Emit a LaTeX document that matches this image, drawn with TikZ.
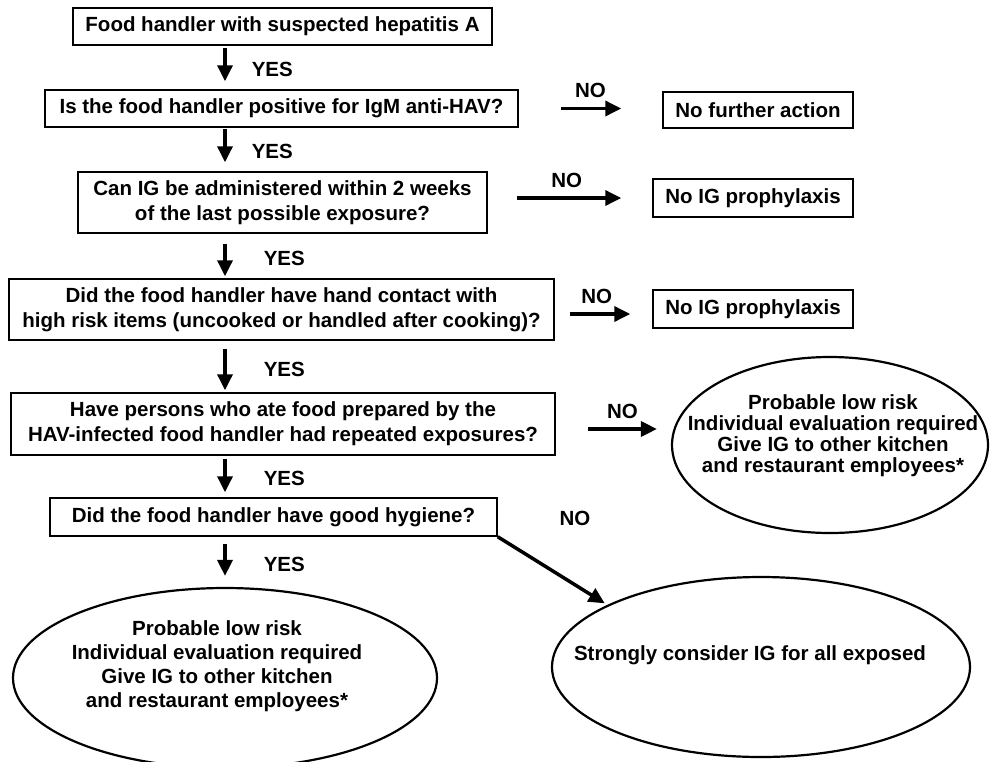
\documentclass[tikz,border=0pt]{standalone}
\usepackage{fontspec}
\setmainfont{Liberation Sans}
\usetikzlibrary{arrows.meta, shapes.geometric}

\begin{document}
\begin{tikzpicture}[x=1pt, y=-1pt,
  qbox/.style={draw, line width=1.5pt, align=center, inner sep=0pt, font=\bfseries\fontsize{20.5}{25}\selectfont},
  outcome/.style={draw, ellipse, line width=2.2pt, inner sep=0pt},
  txt/.style={align=center, inner sep=0pt, font=\bfseries\fontsize{20.5}{21}\selectfont},
  lbl/.style={inner sep=0pt, font=\bfseries\fontsize{20.5}{24}\selectfont},
  flow/.style={line width=3.5pt, -{Triangle[length=16pt, width=15pt]}}]
\fill[white] (0,0) rectangle (990,761);
\useasboundingbox (0,0) rectangle (990,761);
\coordinate (spine) at (225,0);
% questions down the left
\node[qbox, minimum width=419pt, minimum height=37pt] (b1) at (282.5,26.5) {Food handler with suspected hepatitis A};
\node[qbox, minimum width=473pt, minimum height=37pt] (b2) at (281.5,108.5) {Is the food handler positive for IgM anti-HAV?};
\node[qbox, minimum width=409pt, minimum height=61pt] (b3) at (282.5,202.5) {Can IG be administered within 2 weeks\\of the last possible exposure?};
\node[qbox, minimum width=545pt, minimum height=61pt] (b4) at (281.5,309.5) {Did the food handler have hand contact with\\high risk items (uncooked or handled after cooking)?};
\node[qbox, minimum width=544pt, minimum height=62pt] (b5) at (283,424) {Have persons who ate food prepared by the\\HAV-infected food handler had repeated exposures?};
\node[qbox, minimum width=447pt, minimum height=38pt] (b6) at (273.5,517) {Did the food handler have good hygiene?};
% answers on the right
\node[qbox, minimum width=190pt, minimum height=36pt] (n1) at (758,110) {No further action};
\node[qbox, minimum width=200pt, minimum height=38pt] (n2) at (753,198) {No IG prophylaxis};
\node[qbox, minimum width=200pt, minimum height=38pt] (n3) at (753,309) {No IG prophylaxis};
\node[outcome, minimum width=316pt, minimum height=176pt] (e1) at (830,445) {};
\node[txt] (t1) at ([xshift=3pt, yshift=9pt]e1.center) {Probable low risk\\Individual evaluation required\\Give IG to other kitchen\\and restaurant employees*};
\node[outcome, minimum width=424pt, minimum height=180pt] (e2) at (225,678) {};
\node[txt, font=\bfseries\fontsize{20.5}{24}\selectfont] (t2) at ([xshift=-8pt, yshift=12pt]e2.center) {Probable low risk\\Individual evaluation required\\Give IG to other kitchen\\and restaurant employees*};
\node[outcome, minimum width=418pt, minimum height=180pt] (e3) at (761,667) {};
\node[txt] (t3) at ([xshift=-11pt, yshift=12pt]e3.center) {Strongly consider IG for all exposed};

% YES arrows
\draw[flow, shorten <=2pt, shorten >=8pt] (b1.south -| spine) -- (b2.north -| spine) node[lbl, pos=0.55, right=25pt] (y1) {YES};
\draw[flow, shorten <=1pt, shorten >=9pt] (b2.south -| spine) -- (b3.north -| spine) node[lbl, pos=0.55, right=25pt] (y2) {YES};
\draw[flow, shorten <=10pt, shorten >=2pt] (b3.south -| spine) -- (b4.north -| spine) node[lbl, pos=0.55, right=37pt] (y3) {YES};
\draw[flow, shorten <=8pt, shorten >=2pt] (b4.south -| spine) -- (b5.north -| spine) node[lbl, pos=0.55, right=37pt] (y4) {YES};
\draw[flow, shorten <=3pt, shorten >=5pt] (b5.south -| spine) -- (b6.north -| spine) node[lbl, pos=0.55, right=37pt] (y5) {YES};
\draw[flow, shorten <=7pt, shorten >=11pt] (b6.south -| spine) -- (e2.north -| spine) node[lbl, pos=0.55, right=37pt] (y6) {YES};

% NO arrows
\draw[flow, shorten <=42pt, shorten >=41pt] (b2.east) -- (b2.east -| n1.west) node[lbl, pos=0.5, above=9pt] (no1) {NO};
\draw[flow, shorten <=29pt, shorten >=31pt] (b3.east |- n2.west) -- (n2.west) node[lbl, pos=0.48, above=9pt] (no2) {NO};
\draw[flow, shorten <=15pt, shorten >=22pt] ([yshift=-4.5pt]b4.east) -- ([yshift=-4.5pt]b4.east -| n3.west) node[lbl, pos=0.43, above=9pt] (no3) {NO};
\draw[flow, shorten <=32pt, shorten >=14pt] ([yshift=-5pt]b5.east) -- ([yshift=-5pt]b5.east -| e1.west) node[lbl, pos=0.58, above=9pt] (no4) {NO};
\draw[flow, shorten >=3pt] (b6.south east) -- (e3.158);
\node[lbl] (no5) at (575,518) {NO};
\end{tikzpicture}
\end{document}
